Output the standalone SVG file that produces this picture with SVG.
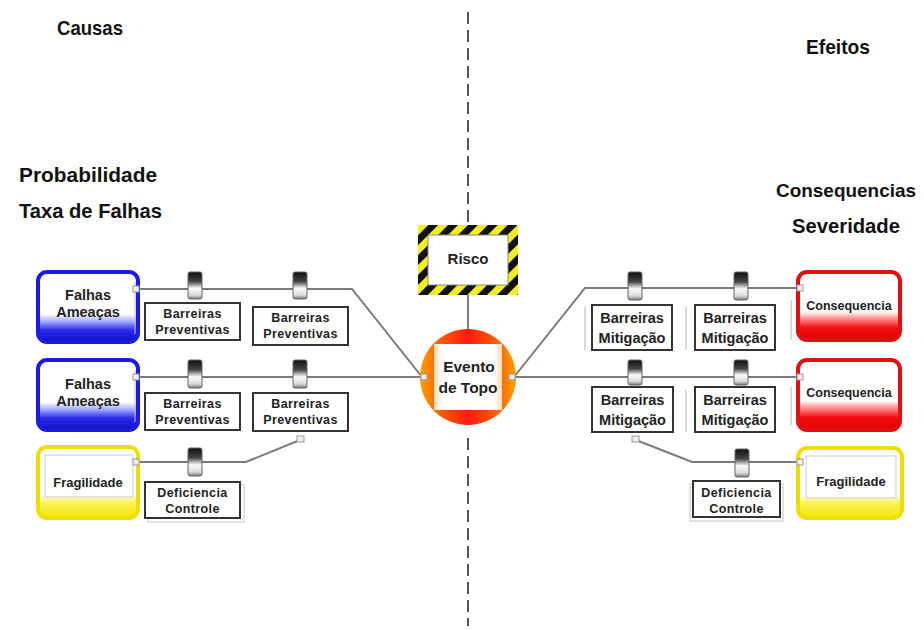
<svg xmlns="http://www.w3.org/2000/svg" width="924" height="630" viewBox="0 0 924 630">
<style>
  .hdr { font-family: "Liberation Sans", Arial, sans-serif; font-weight: bold; font-size: 20.5px; fill: #111; }
  .t { font-family: "Liberation Sans", Arial, sans-serif; font-weight: bold; fill: #222; text-anchor: middle; }
  .t12 { font-size: 12.5px; letter-spacing: 0.4px; }
  .t14 { font-size: 14.5px; }
  .t13 { font-size: 13px; }
  .lbl { fill: #fff; stroke: #333; stroke-width: 2; }
  .conn { fill: none; stroke: #7a7a7a; stroke-width: 2; }
  .dash { stroke: #555; stroke-width: 2; stroke-dasharray: 12 6; }
  .blk { fill: url(#gBlk); stroke: #666; stroke-width: 1; }
  .port { fill: #eee; stroke: #999; stroke-width: 1; }
  .faint { stroke: #ccc; stroke-width: 1.5; fill: none; }
  .shadow { fill: none; stroke: #d8d8d8; stroke-width: 1.5; }
</style>
<defs>
  <linearGradient id="gBlk" x1="0" y1="0" x2="0" y2="1">
    <stop offset="0" stop-color="#111"/>
    <stop offset="0.35" stop-color="#444"/>
    <stop offset="0.6" stop-color="#fafafa"/>
    <stop offset="0.85" stop-color="#ddd"/>
    <stop offset="1" stop-color="#777"/>
  </linearGradient>
  <linearGradient id="gBlue" x1="0" y1="0" x2="0" y2="1">
    <stop offset="0" stop-color="#fff"/>
    <stop offset="0.6" stop-color="#fff"/>
    <stop offset="0.7" stop-color="#aab0ff"/>
    <stop offset="0.83" stop-color="#2a2ae8"/>
    <stop offset="1" stop-color="#1010c8"/>
  </linearGradient>
  <linearGradient id="gRed" x1="0" y1="0" x2="0" y2="1">
    <stop offset="0" stop-color="#fff"/>
    <stop offset="0.58" stop-color="#fff"/>
    <stop offset="0.7" stop-color="#ff8080"/>
    <stop offset="0.82" stop-color="#f01010"/>
    <stop offset="1" stop-color="#e00000"/>
  </linearGradient>
  <linearGradient id="gYel" x1="0" y1="0" x2="0" y2="1">
    <stop offset="0" stop-color="#fff"/>
    <stop offset="0.68" stop-color="#fff"/>
    <stop offset="0.76" stop-color="#fff36a"/>
    <stop offset="1" stop-color="#f2e600"/>
  </linearGradient>
  <linearGradient id="gCirc" x1="0" y1="0" x2="1" y2="0">
    <stop offset="0" stop-color="#ffa000"/>
    <stop offset="0.2" stop-color="#ff6000"/>
    <stop offset="0.5" stop-color="#ff1a10"/>
    <stop offset="0.8" stop-color="#ff6000"/>
    <stop offset="1" stop-color="#ffa000"/>
  </linearGradient>
  <linearGradient id="gInner" x1="0" y1="0" x2="1" y2="0">
    <stop offset="0" stop-color="#ffd9b0"/>
    <stop offset="0.12" stop-color="#fff"/>
    <stop offset="0.88" stop-color="#fff"/>
    <stop offset="1" stop-color="#ffd9b0"/>
  </linearGradient>
  <pattern id="hazard" patternUnits="userSpaceOnUse" width="14" height="14" patternTransform="rotate(45)">
    <rect width="14" height="14" fill="#f2ef1a"/>
    <rect width="7" height="14" fill="#111"/>
  </pattern>
</defs>

<rect width="924" height="630" fill="#fff"/>

<!-- header labels -->
<g id="labels">
  <text class="hdr" x="57" y="35" textLength="66" lengthAdjust="spacingAndGlyphs">Causas</text>
  <text class="hdr" x="806" y="54" textLength="64" lengthAdjust="spacingAndGlyphs">Efeitos</text>
  <text class="hdr" x="19" y="182" textLength="138" lengthAdjust="spacingAndGlyphs">Probabilidade</text>
  <text class="hdr" x="19" y="218" textLength="143" lengthAdjust="spacingAndGlyphs">Taxa de Falhas</text>
  <text class="hdr" x="776" y="197" textLength="140" lengthAdjust="spacingAndGlyphs" style="font-size:19px">Consequencias</text>
  <text class="hdr" x="792" y="233" textLength="108" lengthAdjust="spacingAndGlyphs">Severidade</text>
</g>

<!-- divider -->
<g id="divider">
  <line class="dash" x1="468" y1="12" x2="468" y2="224"/>
  <line class="dash" x1="468" y1="438" x2="468" y2="626"/>
</g>

<!-- connectors -->
<g id="connectors">
  <polyline class="conn" points="138,289 352,289 422,377"/>
  <line class="conn" x1="138" y1="377" x2="422" y2="377"/>
  <polyline class="conn" points="138,462 246,462 300,440"/>
  <line class="conn" x1="468" y1="295" x2="468" y2="331"/>
  <polyline class="conn" points="514,377 585,288 800,288"/>
  <line class="conn" x1="514" y1="377" x2="800" y2="377"/>
  <polyline class="conn" points="636,440 692,462 800,462"/>
</g>

<!-- faint brackets -->
<g id="brackets">
  <line class="faint" x1="585" y1="307" x2="585" y2="350"/>
  <line class="faint" x1="686" y1="307" x2="686" y2="350"/>
  <line class="faint" x1="791" y1="300" x2="791" y2="340"/>
  <line class="faint" x1="686" y1="390" x2="686" y2="432"/>
  <line class="faint" x1="791" y1="387" x2="791" y2="425"/>
</g>

<!-- left source boxes -->
<g id="falhas1">
  <rect x="38" y="272" width="100" height="70" rx="9" fill="url(#gBlue)" stroke="#1c1ce0" stroke-width="4"/>
  <line x1="135" y1="282" x2="135" y2="334" stroke="#bbb" stroke-width="1"/>
  <text class="t t14" x="88" y="300">Falhas</text>
  <text class="t t14" x="88" y="317">Ameaças</text>
</g>
<g id="falhas2">
  <rect x="38" y="360" width="100" height="70" rx="9" fill="url(#gBlue)" stroke="#1c1ce0" stroke-width="4"/>
  <line x1="135" y1="370" x2="135" y2="422" stroke="#bbb" stroke-width="1"/>
  <text class="t t14" x="88" y="389">Falhas</text>
  <text class="t t14" x="88" y="406">Ameaças</text>
</g>
<g id="fragilidade-esq">
  <rect x="38" y="447" width="100" height="71" rx="9" fill="url(#gYel)" stroke="#ece000" stroke-width="4"/>
  <rect x="45" y="455" width="88" height="42" fill="none" stroke="#ccc" stroke-width="1"/>
  <text class="t t13" x="88" y="487">Fragilidade</text>
</g>

<!-- left barriers -->
<g id="bp1">
  <rect class="blk" x="188" y="272" width="14" height="27" rx="2"/>
  <rect class="lbl" x="145" y="303" width="95" height="37"/>
  <text class="t t12" x="192.5" y="318">Barreiras</text>
  <text class="t t12" x="192.5" y="334">Preventivas</text>
</g>
<g id="bp2">
  <rect class="blk" x="293" y="272" width="14" height="27" rx="2"/>
  <rect class="lbl" x="253" y="307" width="95" height="38"/>
  <text class="t t12" x="300.5" y="322">Barreiras</text>
  <text class="t t12" x="300.5" y="338">Preventivas</text>
</g>
<g id="bp3">
  <rect class="blk" x="188" y="360" width="14" height="28" rx="2"/>
  <rect class="lbl" x="145" y="393" width="95" height="37"/>
  <text class="t t12" x="192.5" y="408">Barreiras</text>
  <text class="t t12" x="192.5" y="424">Preventivas</text>
</g>
<g id="bp4">
  <rect class="blk" x="293" y="360" width="14" height="28" rx="2"/>
  <rect class="lbl" x="253" y="393" width="95" height="38"/>
  <text class="t t12" x="300.5" y="408">Barreiras</text>
  <text class="t t12" x="300.5" y="424">Preventivas</text>
</g>
<g id="dc-esq">
  <rect class="blk" x="188" y="448" width="14" height="28" rx="2"/>
  <rect class="shadow" x="148" y="485" width="96" height="37"/>
  <rect class="lbl" x="145" y="482" width="95" height="36"/>
  <text class="t t12" x="192.5" y="497">Deficiencia</text>
  <text class="t t12" x="192.5" y="513">Controle</text>
</g>

<!-- center -->
<g id="risco">
  <rect x="418" y="225" width="100" height="70" fill="url(#hazard)"/>
  <rect x="428" y="235" width="80" height="50" fill="#fff" stroke="#888" stroke-width="1"/>
  <text class="t" x="468" y="264" style="font-size:15px">Risco</text>
</g>
<g id="evento">
  <circle cx="468" cy="377" r="48" fill="url(#gCirc)"/>
  <rect x="434" y="344" width="68" height="66" fill="url(#gInner)"/>
  <text class="t" x="469" y="372" style="font-size:15.5px">Evento</text>
  <text class="t" x="468" y="393" style="font-size:15.5px">de Topo</text>
</g>

<!-- right barriers -->
<g id="bm1">
  <rect class="blk" x="628" y="272" width="14" height="28" rx="2"/>
  <rect class="lbl" x="592" y="305" width="80" height="45"/>
  <text class="t t14" x="632" y="323">Barreiras</text>
  <text class="t t14" x="632" y="343">Mitigação</text>
</g>
<g id="bm2">
  <rect class="blk" x="734" y="272" width="14" height="28" rx="2"/>
  <rect class="lbl" x="695" y="305" width="80" height="45"/>
  <text class="t t14" x="735" y="323">Barreiras</text>
  <text class="t t14" x="735" y="343">Mitigação</text>
</g>
<g id="bm3">
  <rect class="blk" x="628" y="360" width="14" height="25" rx="2"/>
  <rect class="lbl" x="592" y="387" width="81" height="45"/>
  <text class="t t14" x="632.5" y="405">Barreiras</text>
  <text class="t t14" x="632.5" y="425">Mitigação</text>
</g>
<g id="bm4">
  <rect class="blk" x="734" y="360" width="14" height="25" rx="2"/>
  <rect class="lbl" x="695" y="387" width="80" height="45"/>
  <text class="t t14" x="735" y="405">Barreiras</text>
  <text class="t t14" x="735" y="425">Mitigação</text>
</g>
<g id="dc-dir">
  <rect class="blk" x="735" y="449" width="14" height="28" rx="2"/>
  <rect class="shadow" x="690" y="484" width="93" height="37"/>
  <rect class="lbl" x="693" y="481" width="87" height="36"/>
  <text class="t t12" x="736.5" y="497">Deficiencia</text>
  <text class="t t12" x="736.5" y="513">Controle</text>
</g>

<!-- right target boxes -->
<g id="consequencia1">
  <rect x="798" y="272" width="102" height="68" rx="9" fill="url(#gRed)" stroke="#e01010" stroke-width="4"/>
  <text class="t t12" x="849" y="310" style="letter-spacing:0">Consequencia</text>
</g>
<g id="consequencia2">
  <rect x="798" y="360" width="102" height="70" rx="9" fill="url(#gRed)" stroke="#e01010" stroke-width="4"/>
  <text class="t t12" x="849" y="397" style="letter-spacing:0">Consequencia</text>
</g>
<g id="fragilidade-dir">
  <rect x="798" y="448" width="104" height="70" rx="9" fill="url(#gYel)" stroke="#ece000" stroke-width="4"/>
  <rect x="806" y="456" width="90" height="42" fill="none" stroke="#ccc" stroke-width="1"/>
  <text class="t t13" x="851" y="486">Fragilidade</text>
</g>

<!-- ports -->
<g id="ports">
  <rect class="port" x="133" y="286" width="6" height="6"/>
  <rect class="port" x="133" y="374" width="6" height="6"/>
  <rect class="port" x="133" y="459" width="6" height="6"/>
  <rect class="port" x="297" y="436" width="7" height="6"/>
  <rect class="port" x="421" y="374" width="6" height="6"/>
  <rect class="port" x="509" y="374" width="6" height="6"/>
  <rect class="port" x="797" y="285" width="6" height="6"/>
  <rect class="port" x="797" y="374" width="6" height="6"/>
  <rect class="port" x="797" y="459" width="6" height="6"/>
  <rect class="port" x="632" y="436" width="7" height="6"/>
</g>
</svg>
